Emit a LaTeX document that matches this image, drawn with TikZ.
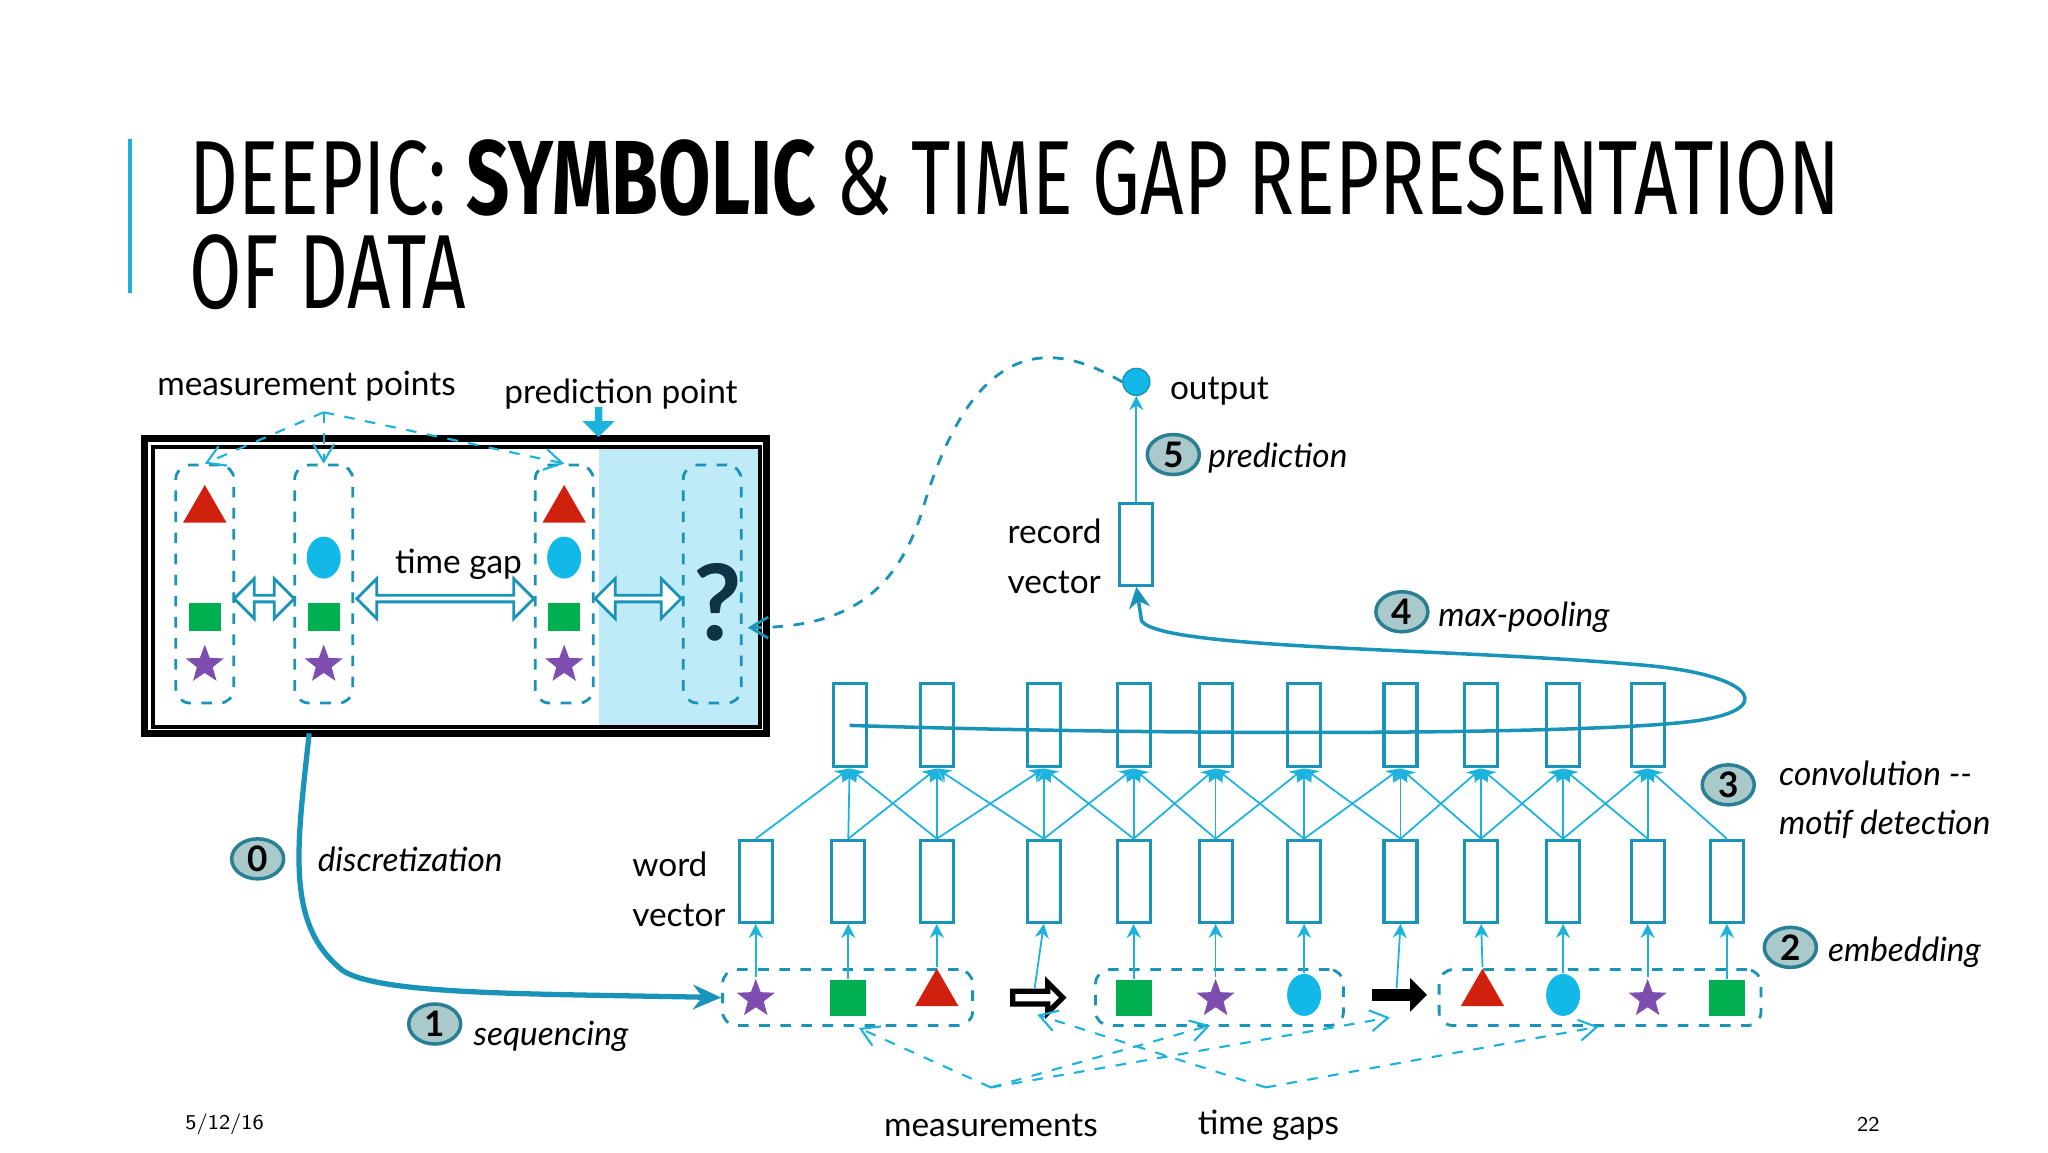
\documentclass[tikz,border=0pt]{standalone}
\usepackage{fontspec}
\setmainfont{Lato}
\newfontfamily\titlefont{Fira Sans}
\usetikzlibrary{shapes.geometric,arrows.meta,shapes.arrows}
\definecolor{tealc}{HTML}{1A93B8}
\definecolor{cy}{HTML}{1BB3DE}
\definecolor{rd}{HTML}{D0210F}
\definecolor{gr}{HTML}{00B050}
\definecolor{pu}{HTML}{7D4EB0}
\definecolor{bl}{HTML}{12B9E8}
\definecolor{shadecol}{HTML}{BFEAF8}
\definecolor{numfill}{HTML}{A9C9CB}
\definecolor{numdraw}{HTML}{2A7F95}
\definecolor{qm}{HTML}{0E3345}
\begin{document}
\begin{tikzpicture}[x=0.013213cm,y=-0.013213cm,
 txt/.style={font=\fontsize{9.5pt}{11pt}\selectfont,inner sep=0},
 itxt/.style={txt,font=\fontsize{9.5pt}{11pt}\selectfont\itshape},
 vec/.style={draw=tealc,line width=0.9pt,fill=white,minimum width=0.33cm,minimum height=0.82cm,inner sep=0},
 col/.style={draw=tealc,dashed,line width=0.8pt,rounded corners=4pt,minimum width=0.58cm,minimum height=2.38cm,inner sep=0},
 seqbox/.style={draw=tealc,dashed,line width=0.8pt,rounded corners=4pt,minimum height=0.56cm,inner sep=0},
 tri/.style={regular polygon,regular polygon sides=3,fill=rd,minimum size=0.5cm,inner sep=0},
 sq/.style={fill=gr,minimum width=0.32cm,minimum height=0.28cm,inner sep=0},
 sqb/.style={fill=gr,minimum width=0.36cm,minimum height=0.36cm,inner sep=0},
 st/.style={star,star points=5,star point ratio=2.4,fill=pu,minimum size=0.4cm,inner sep=0},
 ci/.style={ellipse,fill=bl,minimum width=0.34cm,minimum height=0.42cm,inner sep=0},
 num/.style={ellipse,draw=numdraw,fill=numfill,line width=1pt,minimum width=0.52cm,minimum height=0.4cm,inner sep=0,font=\fontsize{10pt}{10pt}\selectfont\bfseries},
 con/.style={cy,line width=0.5pt,-{Stealth[length=4pt,width=4pt]}},
 dsh/.style={cy,dashed,line width=0.6pt,-{Straight Barb[length=5pt,width=6pt]}},
 dbl/.style={double arrow,draw=tealc,fill=white,line width=0.8pt,inner sep=0,minimum width=0.4cm,double arrow head extend=0.07cm},
]
\useasboundingbox (0,0) rectangle (1550,872);
% title
\fill[cy] (97,105) rectangle (100,222);
\node[anchor=west,inner sep=0,font=\titlefont\fontsize{30pt}{30pt}\selectfont,xscale=0.72] (t1) at (143,135) {DEEPIC: \textbf{SYMBOLIC} \& TIME GAP REPRESENTATION};
\node[anchor=west,inner sep=0,font=\titlefont\fontsize{30pt}{30pt}\selectfont,xscale=0.72] (t2) at (143,206) {OF DATA};
% left box
\fill[shadecol] (453,338) rectangle (575,550);
\draw[line width=2pt] (109,332) rectangle (580,555);
\draw[line width=1.2pt] (116,338) rectangle (575,550);
\node[col] (c1) at (155,442) {};
\node[col] (c2) at (245,442) {};
\node[col] (c3) at (427,442) {};
\node[col] (c4) at (539,442) {};
\node[tri] (a1) at (155,386) {};
\node[sq] (a2) at (155,467) {};
\node[st] (a3) at (155,503) {};
\node[ci] (b1) at (245,422) {};
\node[sq] (b2) at (245,467) {};
\node[st] (b3) at (245,503) {};
\node[tri] (d1) at (427,386) {};
\node[ci] (d2) at (427,422) {};
\node[sq] (d3) at (427,467) {};
\node[st] (d4) at (427,503) {};
\node[dbl,minimum height=0.6cm] (g1) at (200,453) {};
\node[dbl,minimum height=1.77cm] (g2) at (337,453) {};
\node[dbl,minimum height=0.86cm] (g3) at (483,453) {};
\node[txt] (tg) at (347,427) {time gap};
\node[inner sep=0,text=qm,font=\fontsize{30pt}{30pt}\selectfont\bfseries] (qq) at (543,456) {?};
\node[single arrow,fill=cy,rotate=-90,minimum height=0.3cm,minimum width=0.32cm,single arrow head extend=0.08cm,inner sep=0.5pt] (pp) at (453,318) {};
\node[txt] (mp) at (232,292) {measurement points};
\node[txt] (ppt) at (470,298) {prediction point};
\coordinate (mpc) at (245,312);
\draw[dsh] (mpc) -- (c1.north);
\draw[dsh] (mpc) -- (c2.north);
\draw[dsh] (mpc) -- (c3.north);
% output
\node[circle,fill=bl,draw=tealc,minimum size=0.27cm,inner sep=0] (out) at (860,289) {};
\node[txt,anchor=west] (outl) at (885,296) {output};
\node[vec] (rec) at (860,412) {};
\node[txt,anchor=west,align=left] (recl) at (762,421) {record\\[3pt]vector};
\draw[con] (rec.north) -- (out.south);
\draw[tealc,dashed,line width=0.8pt,-{Straight Barb[length=5pt,width=6pt]}] (out.west) .. controls (800,260) and (740,250) .. (700,380) .. controls (680,450) and (640,475) .. (566,475);
% word vectors
\foreach \x [count=\i] in {572,642,709,790,858,920,987,1060,1121,1183,1247,1307}{
  \node[vec] (w\i) at (\x,667) {};
}
\foreach \x [count=\i] in {643,709,790,858,920,987,1060,1121,1183,1247}{
  \node[vec,minimum height=0.83cm] (v\i) at (\x,549) {};
}
\foreach \i in {1,...,10}{
  \pgfmathtruncatemacro{\a}{\i}\pgfmathtruncatemacro{\b}{\i+1}\pgfmathtruncatemacro{\c}{\i+2}
  \draw[con] (w\a.north) -- (v\i.south);
  \draw[con] (w\b.north) -- (v\i.south);
  \draw[con] (w\c.north) -- (v\i.south);
}
% sequence
\node[seqbox,minimum width=2.5cm] (s1) at (641.5,755) {};
\node[seqbox,minimum width=2.48cm] (s2) at (923,755) {};
\node[seqbox,minimum width=3.22cm] (s3) at (1211,755) {};
\node[st] (e1) at (572,756) {};
\node[sqb] (e2) at (642,755) {};
\node[tri] (e3) at (709,752) {};
\node[sqb] (e5) at (858,755) {};
\node[st] (e6) at (920,756) {};
\node[ci] (e7) at (987,753) {};
\node[tri] (e9) at (1122,752) {};
\node[ci] (e10) at (1183,753) {};
\node[st] (e11) at (1247,756) {};
\node[sqb] (e12) at (1307,755) {};
\node[single arrow,draw=black,line width=1.5pt,fill=white,minimum height=0.5cm,minimum width=0.3cm,inner sep=0.5pt,single arrow head extend=0.06cm] (e4) at (783,755) {};
\node[single arrow,fill=black,minimum height=0.55cm,minimum width=0.34cm,inner sep=1pt,single arrow head extend=0.08cm] (e8) at (1057,753) {};
\foreach \i in {1,2,3,5,6,7,9,10,11,12}{ \draw[con] (e\i.north) -- (w\i.south); }
\draw[con] (e4.north) -- (w4.south);
\draw[con] (e8.north) -- (w8.south);
% max pooling
\draw[tealc,line width=1pt,-{Stealth[length=6pt,width=6pt]}] (v1.center) .. controls (900,557) and (1200,556) .. (1280,546) .. controls (1345,538) and (1330,512) .. (1250,504) .. controls (1100,490) and (880,492) .. (864,470) -- (rec.south);
% discretization
\draw[tealc,line width=1.5pt,-{Stealth[length=8pt,width=7pt]}] (234,555) .. controls (225,640) and (215,700) .. (260,735) .. controls (290,753) and (400,752) .. (s1.west);
% bottom dashed
\node[txt] (meas) at (750,852) {measurements};
\node[txt] (tgs) at (960,852) {time gaps};
\coordinate (mc) at (750,823);
\coordinate (tc) at (958,823);
\draw[dsh] (mc) -- (650,778);
\draw[dsh] (mc) -- (916,776);
\draw[dsh] (mc) -- (1052,770);
\draw[dsh] (tc) -- (785,768);
\draw[dsh] (tc) -- (1210,777);
% numbers
\node[num] (n0) at (195,650) {0};
\node[itxt,anchor=west] (l0) at (240,650) {discretization};
\node[num] (n1) at (329,775) {1};
\node[itxt,anchor=west] (l1) at (358,784) {sequencing};
\node[num] (n2) at (1355,717) {2};
\node[itxt,anchor=west] (l2) at (1383,721) {embedding};
\node[num] (n3) at (1308,594) {3};
\node[itxt,anchor=west,align=left] (l3) at (1346,605) {convolution {-}{-}\\[3pt]motif detection};
\node[num] (n4) at (1061,463) {4};
\node[itxt,anchor=west] (l4) at (1088,467) {max-pooling};
\node[num] (n5) at (888,344) {5};
\node[itxt,anchor=west] (l5) at (914,347) {prediction};
\node[txt,anchor=west,align=left] (wv) at (478,673) {word\\[3pt]vector};
\node[inner sep=0,font=\fontsize{6pt}{6pt}\selectfont\sffamily] (dt) at (170,851) {5/12/16};
\node[inner sep=0,font=\fontsize{6pt}{6pt}\selectfont\sffamily] (pg) at (1414,851) {22};
\end{tikzpicture}
\end{document}
